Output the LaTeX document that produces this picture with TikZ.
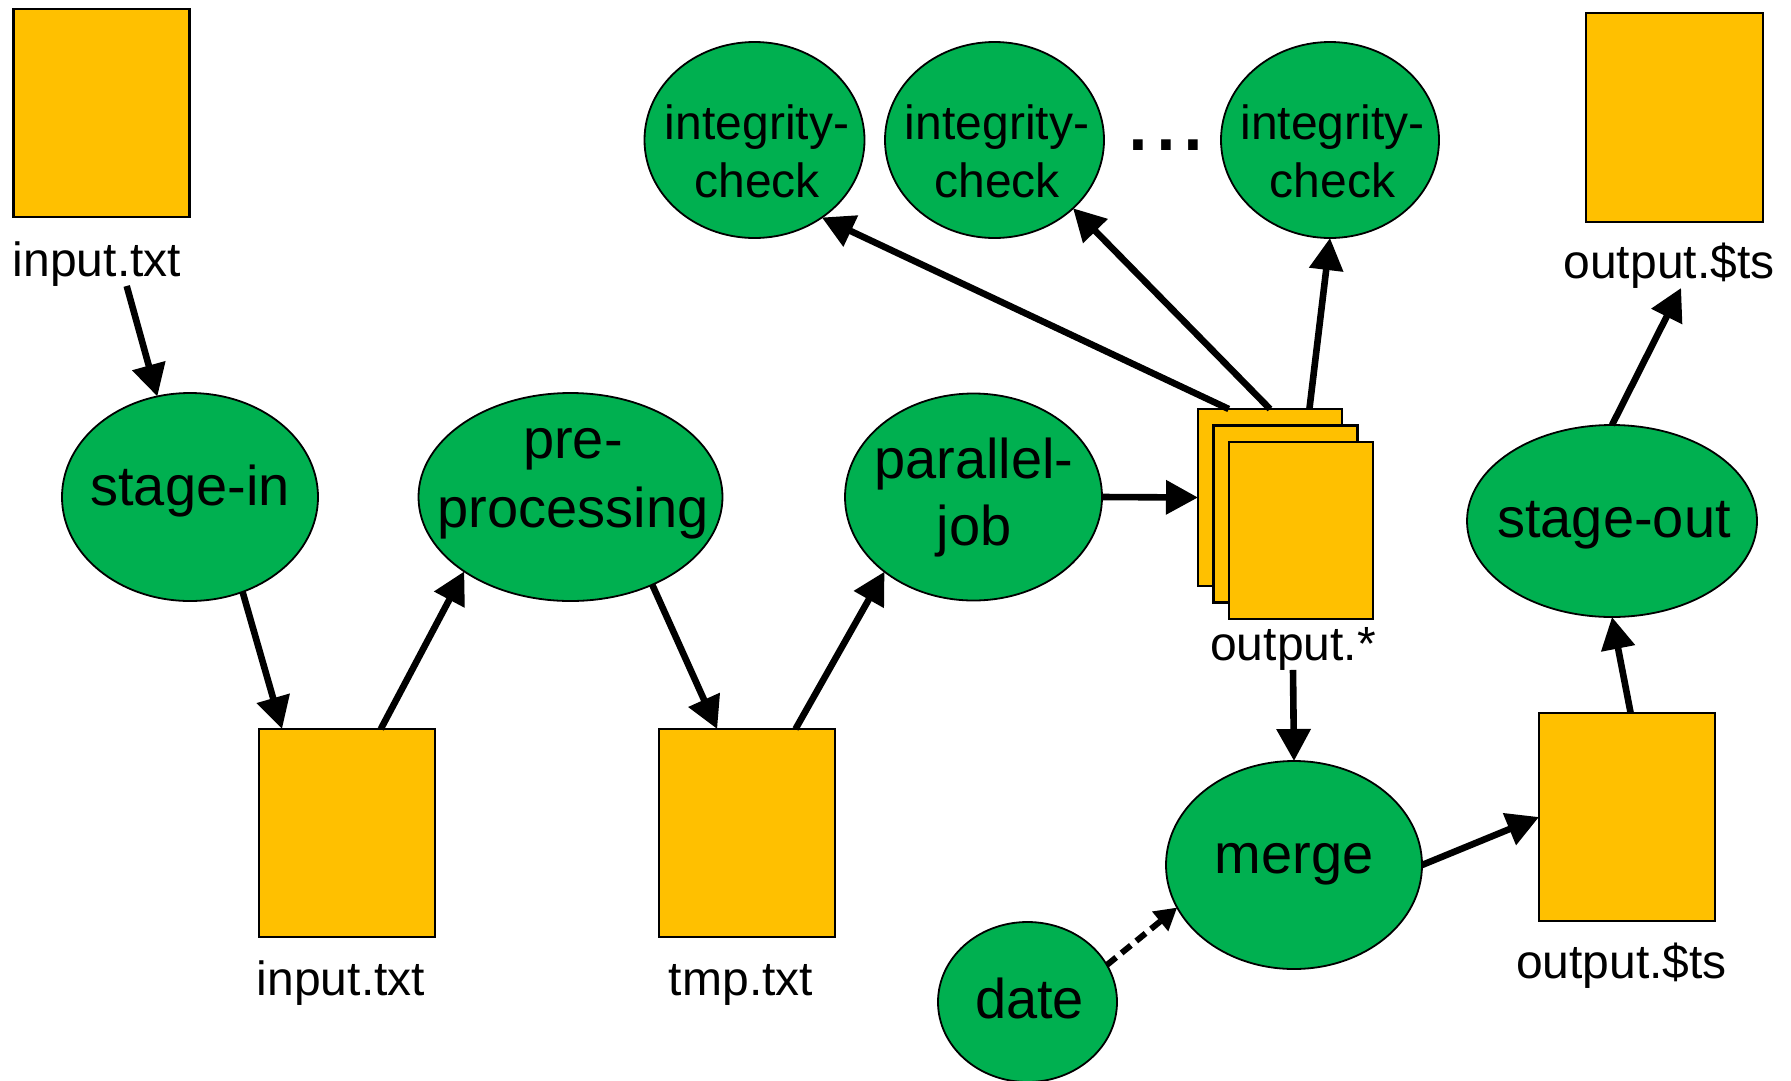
\documentclass[tikz,border=0pt]{standalone}
\usepackage{fontspec}
\setmainfont{Liberation Sans}
\usetikzlibrary{arrows.meta,shapes.geometric}

\definecolor{filebox}{HTML}{FFC000}
\definecolor{jobfill}{HTML}{00B050}

\tikzset{
  file/.style={draw=black, line width=2.6pt, fill=filebox, inner sep=0pt, outer sep=0pt,
    minimum width=176pt, minimum height=208pt},
  stackfile/.style={file, minimum width=144pt, minimum height=177pt},
  job/.style={ellipse, draw=black, line width=1.8pt, fill=jobfill, inner sep=0pt, outer sep=0pt},
  bigtxt/.style={font=\fontsize{56}{67}\selectfont, inner sep=0pt, outer sep=0pt, anchor=base},
  smalltxt/.style={font=\fontsize{48}{58}\selectfont, inner sep=0pt, outer sep=0pt, anchor=base},
  flow/.style={line width=6.6pt, -{Triangle[length=32pt,width=33pt]}},
  optflow/.style={line width=6pt, dash pattern=on 12pt off 7pt, -{Triangle[length=22pt,width=24pt]}},
}

\begin{document}
\begin{tikzpicture}[x=1pt, y=-1pt]
  \useasboundingbox (0,0) rectangle (1791,1080);
  \fill[white] (0,0) rectangle (1791,1080);

  % input file and stage-in
  \node[file] (f0) at (101.5,113) {};
  \node[smalltxt] (l0) at (97,276) {input.txt};
  \node[job, minimum width=256pt, minimum height=208pt] (sin) at (190,497) {};
  \node[bigtxt] (sint) at (190,505) {stage-in};

  % staged input and pre-processing
  \node[file] (fin) at (347,833) {};
  \node[smalltxt] (lin) at (341,995) {input.txt};
  \node[job, minimum width=304pt, minimum height=208pt] (pre) at (570.5,497) {};
  \node[bigtxt] (pret1) at (573,458) {pre-};
  \node[bigtxt] (pret2) at (573,527) {processing};

  % temporary file and parallel job
  \node[file] (ftmp) at (747,833) {};
  \node[smalltxt] (ltmp) at (741,995) {tmp.txt};
  \node[job, minimum width=257pt, minimum height=207pt] (par) at (973.5,497) {};
  \node[bigtxt] (part1) at (974,478) {parallel-};
  \node[bigtxt] (part2) at (974,545) {job};

  % stack of output files
  \node[stackfile] (r1) at (1270,497.5) {};
  \node[stackfile] (r2) at (1285.5,514) {};
  \node[stackfile] (r3) at (1301,530.5) {};
  \node[smalltxt] (lout) at (1293,660) {output.*};

  % integrity checks
  \node[job, minimum width=220pt, minimum height=196pt] (ic1) at (754.5,140) {};
  \node[smalltxt] (ic1a) at (757,139) {integrity-};
  \node[smalltxt] (ic1b) at (757,197) {check};
  \node[job, minimum width=219pt, minimum height=196pt] (ic2) at (994.5,140) {};
  \node[smalltxt] (ic2a) at (997,139) {integrity-};
  \node[smalltxt] (ic2b) at (997,197) {check};
  \node[job, minimum width=218pt, minimum height=196pt] (ic3) at (1330,140) {};
  \node[smalltxt] (ic3a) at (1332.5,139) {integrity-};
  \node[smalltxt] (ic3b) at (1332.5,197) {check};
  \node[font=\fontsize{100}{100}\selectfont, inner sep=0pt, anchor=base] (dots) at (1166,150) {...};

  % final output and stage-out
  \node[file, minimum width=177pt, minimum height=209pt] (fts0) at (1674.5,117.5) {};
  \node[smalltxt] (lts0) at (1669,278) {output.\$ts};
  \node[job, minimum width=290pt, minimum height=192pt] (sout) at (1612,521) {};
  \node[bigtxt] (soutt) at (1614,537) {stage-out};
  \node[file] (fts) at (1627,817) {};
  \node[smalltxt] (lts) at (1621.5,978) {output.\$ts};

  % merge and date
  \node[job, minimum width=256pt, minimum height=208pt] (mrg) at (1294,865) {};
  \node[bigtxt] (mrgt) at (1294,873) {merge};
  \node[job, minimum width=179pt, minimum height=160pt] (date) at (1027.5,1002) {};
  \node[bigtxt] (datet) at (1029.5,1018) {date};

  % data flow
  \draw[flow] (l0.-37) -- (sin.108);
  \draw[flow] (sin.-61) -- (fin.122);
  \draw[flow] (fin.72) -- (pre.-145);
  \draw[flow] (pre.-47) -- (ftmp.106);
  \draw[flow] (ftmp.65) -- (par.-140);
  \draw[flow] (par.east) -- (r1.west);
  \draw[flow] (r1.115) -- (ic1.-49);
  \draw[flow] (r1.north) -- (ic2.-41);
  \draw[flow] (r1.66) -- (ic3.south);
  \draw[flow] (lout.south) -- (mrg.north);
  \draw[optflow] (date.25) -- (mrg.-160);
  \draw[flow] (mrg.east) -- (fts.west);
  \draw[flow] (fts.88) -- (sout.south);
  \draw[flow] (sout.north) -- (lts0.-62);
\end{tikzpicture}
\end{document}
